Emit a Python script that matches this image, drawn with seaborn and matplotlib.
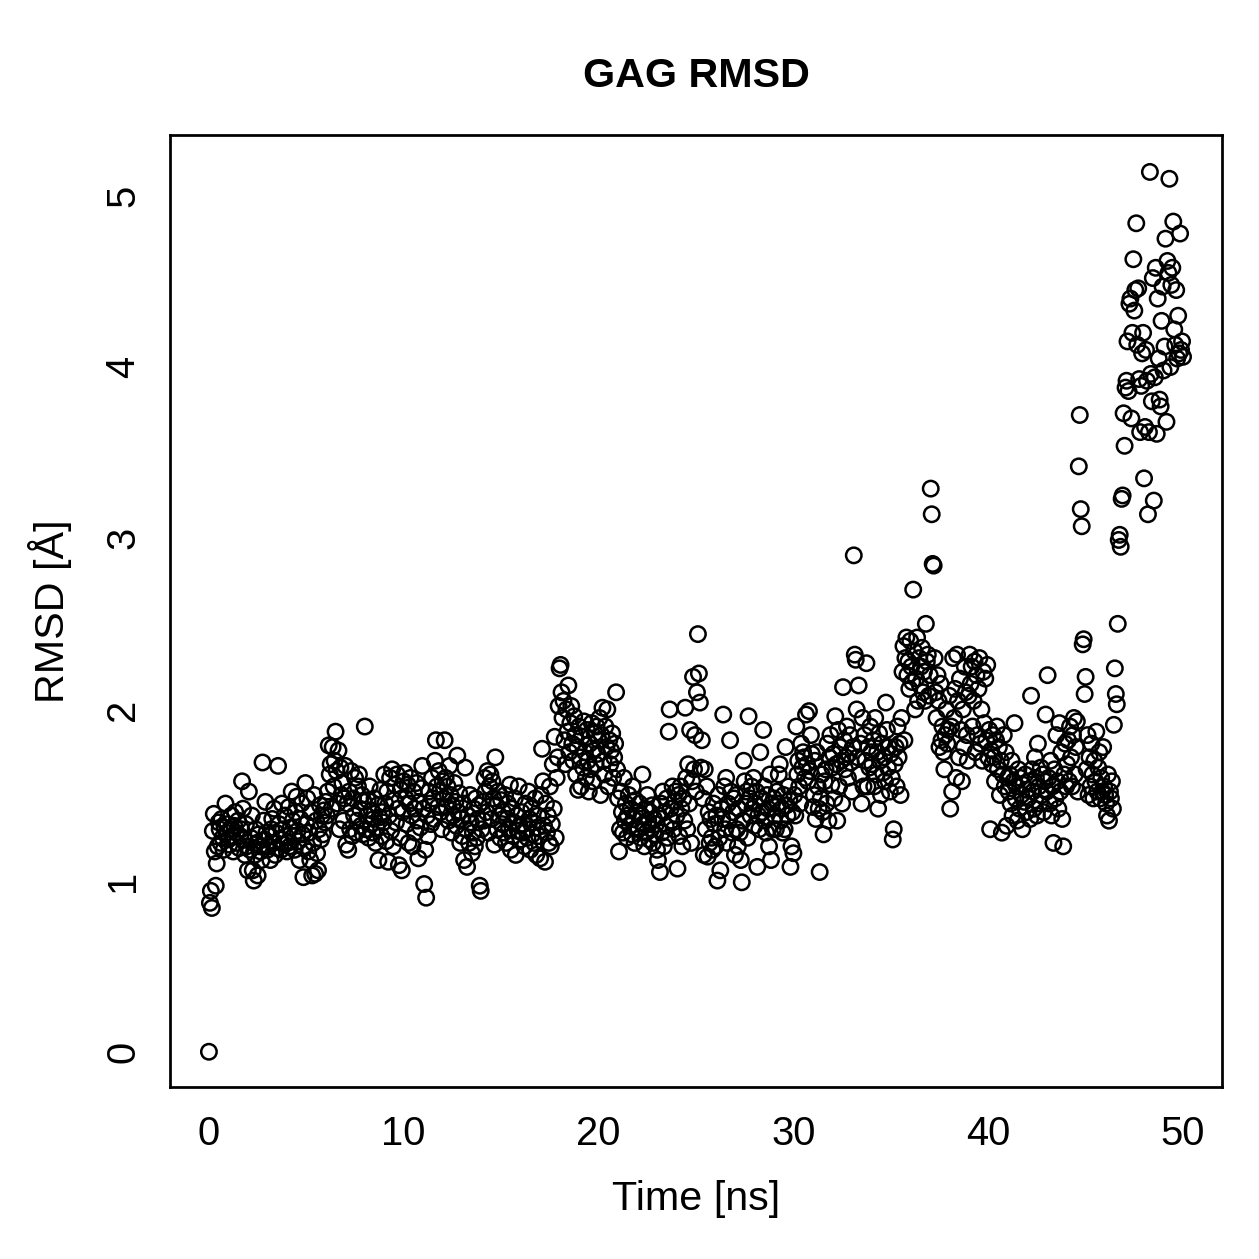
import numpy as np
import pandas as pd
import seaborn as sns
import matplotlib.pyplot as plt

# --- DATOS (RMSD en Å, un frame cada 0.05 ns) ---
FRAME_STEP_NS = 0.05
rmsd_start = [0.0]
rmsd_00_10 = [
    0.87, 0.94, 0.84, 1.29, 1.39, 1.17, 0.97, 1.10, 1.20, 1.34, 1.30, 1.22, 1.36, 1.25, 1.18, 1.31, 1.45, 1.28, 1.33, 1.24,
    1.21, 1.30, 1.38, 1.26, 1.17, 1.32, 1.40, 1.28, 1.22, 1.35, 1.19, 1.26, 1.30, 1.58, 1.42, 1.24, 1.15, 1.33, 1.20, 1.06,
    1.52, 1.18, 1.25, 1.38, 1.06, 1.00, 1.15, 1.30, 1.22, 1.03, 1.27, 1.20, 1.17, 1.12, 1.69, 1.35, 1.24, 1.46, 1.28, 1.18,
    1.20, 1.26, 1.12, 1.30, 1.36, 1.22, 1.42, 1.15, 1.28, 1.19, 1.67, 1.33, 1.24, 1.18, 1.45, 1.30, 1.21, 1.38, 1.26, 1.17,
    1.22, 1.43, 1.20, 1.31, 1.52, 1.35, 1.26, 1.18, 1.40, 1.49, 1.29, 1.23, 1.12, 1.36, 1.45, 1.27, 1.02, 1.19, 1.57, 1.33,
    1.48, 1.17, 1.28, 1.12, 1.40, 1.03, 1.22, 1.50, 1.04, 1.35, 1.16, 1.06, 1.30, 1.44, 1.24, 1.38, 1.27, 1.41, 1.34, 1.46,
    1.38, 1.52, 1.79, 1.62, 1.68, 1.42, 1.78, 1.55, 1.70, 1.87, 1.64, 1.45, 1.76, 1.30, 1.66, 1.50, 1.57, 1.35, 1.48, 1.67,
    1.21, 1.45, 1.18, 1.52, 1.30, 1.64, 1.26, 1.48, 1.38, 1.60, 1.28, 1.35, 1.55, 1.62, 1.42, 1.32, 1.50, 1.27, 1.46, 1.90,
    1.30, 1.38, 1.47, 1.25, 1.55, 1.33, 1.41, 1.28, 1.36, 1.48, 1.22, 1.31, 1.44, 1.12, 1.37, 1.53, 1.26, 1.40, 1.34, 1.62,
    1.45, 1.23, 1.52, 1.11, 1.38, 1.60, 1.29, 1.65, 1.20, 1.47, 1.56, 1.34, 1.62, 1.42, 1.09, 1.25, 1.53, 1.06, 1.40, 1.58,
]
rmsd_10_20 = [
    1.63, 1.48, 1.33, 1.56, 1.22, 1.45, 1.60, 1.38, 1.20, 1.52, 1.42, 1.28, 1.57, 1.35, 1.13, 1.46, 1.31, 1.54, 1.67, 1.42,
    0.98, 1.18, 0.90, 1.38, 1.26, 1.52, 1.45, 1.33, 1.60, 1.48, 1.36, 1.70, 1.82, 1.55, 1.43, 1.64, 1.52, 1.40, 1.30, 1.58,
    1.48, 1.82, 1.60, 1.43, 1.55, 1.35, 1.67, 1.50, 1.28, 1.44, 1.38, 1.57, 1.46, 1.32, 1.73, 1.40, 1.51, 1.22, 1.36, 1.26,
    1.45, 1.12, 1.66, 1.30, 1.08, 1.38, 1.22, 1.50, 1.34, 1.16, 1.28, 1.42, 1.20, 1.48, 1.25, 1.36, 1.44, 0.97, 0.94, 1.30,
    1.46, 1.35, 1.60, 1.52, 1.40, 1.64, 1.28, 1.55, 1.62, 1.36, 1.58, 1.48, 1.21, 1.72, 1.44, 1.30, 1.52, 1.38, 1.25, 1.47,
    1.33, 1.40, 1.28, 1.50, 1.22, 1.36, 1.45, 1.30, 1.56, 1.18, 1.42, 1.26, 1.34, 1.48, 1.15, 1.38, 1.29, 1.55, 1.32, 1.24,
    1.40, 1.28, 1.33, 1.20, 1.45, 1.30, 1.25, 1.52, 1.36, 1.18, 1.42, 1.27, 1.34, 1.22, 1.48, 1.15, 1.31, 1.38, 1.26, 1.13,
    1.50, 1.77, 1.58, 1.32, 1.11, 1.45, 1.28, 1.38, 1.22, 1.55, 1.20, 1.33, 1.68, 1.42, 1.84, 1.25, 1.60, 1.72, 2.02, 2.24,
    2.26, 2.10, 1.95, 2.05, 1.82, 1.68, 2.00, 1.87, 2.14, 1.75, 1.92, 2.02, 1.80, 1.70, 1.96, 1.85, 1.62, 1.78, 1.53, 1.90,
    1.72, 1.55, 1.84, 1.66, 1.93, 1.75, 1.60, 1.88, 1.70, 1.52, 1.80, 1.65, 1.92, 1.58, 1.76, 1.86, 1.68, 1.90, 1.74, 1.82,
]
rmsd_20_30 = [
    1.95, 1.50, 1.85, 2.01, 1.70, 1.62, 1.90, 1.78, 2.00, 1.55, 1.82, 1.68, 1.76, 1.86, 1.60, 1.72, 1.80, 2.10, 1.65, 1.48,
    1.17, 1.30, 1.52, 1.40, 1.28, 1.60, 1.35, 1.45, 1.25, 1.38, 1.50, 1.32, 1.42, 1.27, 1.55, 1.36, 1.22, 1.47, 1.31, 1.40,
    1.30, 1.45, 1.25, 1.38, 1.62, 1.33, 1.20, 1.42, 1.28, 1.50, 1.35, 1.24, 1.40, 1.30, 1.44, 1.22, 1.36, 1.27, 1.33, 1.18,
    1.12, 1.38, 1.05, 1.45, 1.28, 1.52, 1.20, 1.40, 1.32, 1.48, 1.25, 1.87, 2.00, 1.42, 1.35, 1.55, 1.30, 1.46, 1.52, 1.38,
    1.07, 1.50, 1.26, 1.55, 1.42, 1.20, 1.48, 1.35, 2.01, 1.60, 1.30, 1.68, 1.45, 1.88, 1.22, 1.58, 2.19, 1.65, 1.85, 1.52,
    2.10, 2.44, 2.21, 2.04, 1.66, 1.82, 1.48, 1.15, 1.65, 1.30, 1.55, 1.14, 1.40, 1.22, 1.36, 1.25, 1.18, 1.45, 1.33, 1.20,
    1.38, 1.00, 1.50, 1.25, 1.06, 1.42, 1.36, 1.97, 1.55, 1.30, 1.60, 1.22, 1.45, 1.35, 1.82, 1.52, 1.28, 1.40, 1.48, 1.15,
    1.50, 1.30, 1.20, 1.42, 1.28, 1.12, 0.99, 1.35, 1.70, 1.58, 1.45, 1.52, 1.25, 1.96, 1.48, 1.38, 1.55, 1.42, 1.60, 1.32,
    1.45, 1.52, 1.08, 1.38, 1.30, 1.75, 1.48, 1.40, 1.88, 1.55, 1.35, 1.28, 1.50, 1.42, 1.20, 1.62, 1.12, 1.45, 1.30, 1.48,
    1.38, 1.30, 1.52, 1.45, 1.62, 1.68, 1.35, 1.42, 1.28, 1.50, 1.30, 1.78, 1.44, 1.38, 1.55, 1.47, 1.08, 1.20, 1.40, 1.16,
]
rmsd_30_40 = [
    1.50, 1.38, 1.90, 1.62, 1.70, 1.55, 1.45, 1.80, 1.66, 1.75, 1.72, 1.60, 1.97, 1.68, 1.58, 1.99, 1.64, 1.85, 1.74, 1.43,
    1.50, 1.70, 1.36, 1.75, 1.55, 1.42, 1.05, 1.48, 1.62, 1.40, 1.27, 1.58, 1.65, 1.45, 1.80, 1.35, 1.72, 1.85, 1.56, 1.66,
    1.74, 1.48, 1.96, 1.68, 1.35, 1.88, 1.55, 1.78, 1.70, 1.45, 2.13, 1.82, 1.65, 1.72, 1.90, 1.60, 1.74, 1.85, 1.69, 1.52,
    1.78, 2.90, 2.32, 2.29, 2.00, 1.72, 2.14, 1.62, 1.80, 1.45, 1.95, 1.55, 1.85, 1.70, 2.27, 1.55, 1.78, 1.66, 1.90, 1.75,
    1.68, 1.82, 1.55, 1.95, 1.62, 1.75, 1.42, 1.86, 1.70, 1.50, 1.80, 1.63, 1.72, 1.58, 2.04, 1.88, 1.66, 1.78, 1.52, 1.74,
    1.60, 1.24, 1.30, 1.68, 1.78, 1.55, 1.90, 1.72, 1.80, 1.50, 1.95, 2.22, 2.37, 1.82, 2.30, 2.42, 2.20, 2.28, 2.12, 2.40,
    2.25, 2.16, 2.70, 2.34, 2.00, 2.18, 2.42, 2.05, 2.30, 2.14, 2.25, 2.36, 2.10, 2.22, 2.05, 2.50, 2.28, 2.32, 2.08, 2.20,
    3.29, 3.14, 2.85, 2.84, 2.30, 2.10, 1.95, 2.20, 2.05, 1.78, 2.15, 1.82, 1.90, 1.75, 1.65, 1.85, 2.00, 1.80, 1.88, 2.08,
    1.42, 1.90, 1.52, 2.30, 1.95, 2.12, 1.60, 2.32, 2.05, 1.72, 2.18, 1.88, 1.58, 2.00, 1.78, 2.25, 2.10, 1.85, 1.70, 2.08,
    2.32, 2.15, 2.25, 1.90, 2.05, 2.28, 1.75, 2.20, 1.85, 2.12, 2.30, 1.80, 2.00, 1.70, 2.22, 1.92, 2.18, 1.82, 2.26, 1.72,
]
rmsd_40_50 = [
    1.88, 1.30, 1.76, 1.68, 1.85, 1.72, 1.58, 1.82, 1.90, 1.65, 1.78, 1.50, 1.70, 1.28, 1.62, 1.85, 1.55, 1.75, 1.32, 1.60,
    1.52, 1.62, 1.45, 1.70, 1.38, 1.58, 1.92, 1.48, 1.55, 1.35, 1.65, 1.42, 1.60, 1.50, 1.30, 1.56, 1.46, 1.62, 1.40, 1.53,
    1.48, 1.58, 1.36, 2.08, 1.65, 1.52, 1.42, 1.72, 1.60, 1.38, 1.80, 1.55, 1.45, 1.66, 1.50, 1.62, 1.40, 1.58, 1.97, 1.52,
    2.20, 1.60, 1.45, 1.70, 1.38, 1.55, 1.22, 1.65, 1.48, 1.85, 1.58, 1.42, 1.92, 1.52, 1.75, 1.36, 1.20, 1.62, 1.80, 1.55,
    1.68, 1.82, 1.58, 1.90, 1.72, 1.55, 1.85, 1.95, 1.62, 1.78, 1.93, 1.52, 3.42, 3.72, 3.17, 3.07, 2.38, 2.41, 2.09, 2.19,
    1.65, 1.85, 1.50, 1.72, 1.55, 1.80, 1.62, 1.48, 1.70, 1.58, 1.87, 1.52, 1.66, 1.75, 1.48, 1.60, 1.52, 1.78, 1.55, 1.50,
    1.45, 1.38, 1.62, 1.35, 1.52, 1.48, 1.58, 1.42, 1.91, 2.24, 2.09, 2.03, 2.50, 2.99, 3.02, 2.95, 3.23, 3.25, 3.73, 3.54,
    3.88, 3.92, 4.15, 3.86, 4.37, 4.40, 3.70, 4.20, 4.63, 4.33, 4.45, 4.84, 4.13, 4.46, 3.93, 3.62, 3.89, 4.08, 4.20, 3.35,
    3.65, 4.10, 3.92, 3.14, 3.62, 5.14, 3.96, 3.80, 4.52, 3.22, 3.94, 4.58, 3.61, 4.40, 4.05, 3.81, 3.77, 4.27, 4.47, 3.98,
    4.12, 4.75, 3.68, 4.62, 4.55, 5.10, 4.00, 4.48, 4.58, 4.85, 4.22, 4.13, 4.45, 4.05, 4.30, 4.08, 4.78, 4.10, 4.15, 4.06,
]

rmsd = np.array(rmsd_start + rmsd_00_10 + rmsd_10_20 + rmsd_20_30 + rmsd_30_40 + rmsd_40_50)
df = pd.DataFrame({"time": np.arange(len(rmsd)) * FRAME_STEP_NS, "rmsd": rmsd})

# --- ESTILO (imitando R base graphics) ---
sns.set_style("white")
plt.rcParams['font.family'] = ['Liberation Sans', 'DejaVu Sans']
plt.rcParams['text.color'] = 'black'
plt.rcParams['axes.labelcolor'] = 'black'

fig = plt.figure(figsize=(1259 / 180, 1259 / 180), dpi=180)
ax = fig.add_axes([0.135, 0.1366, 0.8356, 0.7562])

sns.scatterplot(data=df, x="time", y="rmsd", ax=ax, marker="o", s=38,
                color="black", linewidth=1.0, legend=False)
pts = ax.collections[0]
pts.set_facecolor("none")
pts.set_edgecolor("black")

ax.set_xlim(-2, 52)
ax.set_ylim(-0.206, 5.356)
ax.set_xticks([0, 10, 20, 30, 40, 50])
ax.set_yticks([0, 1, 2, 3, 4, 5])
ax.tick_params(axis="both", direction="out", length=5, width=1.0,
               labelsize=16, color="black", labelcolor="black", pad=6)
plt.setp(ax.get_yticklabels(), rotation=90, va="center")
for sp in ax.spines.values():
    sp.set_visible(True)
    sp.set_color("black")
    sp.set_linewidth(1.1)

ax.set_xlabel("Time [ns]", fontsize=16.5, labelpad=11, color="black")
ax.set_ylabel("RMSD [Å]", fontsize=16.5, labelpad=13, color="black")
ax.set_title("GAG RMSD", fontsize=16.5, fontweight="bold", pad=19, color="black")

fig.savefig("out.png", dpi=180)
